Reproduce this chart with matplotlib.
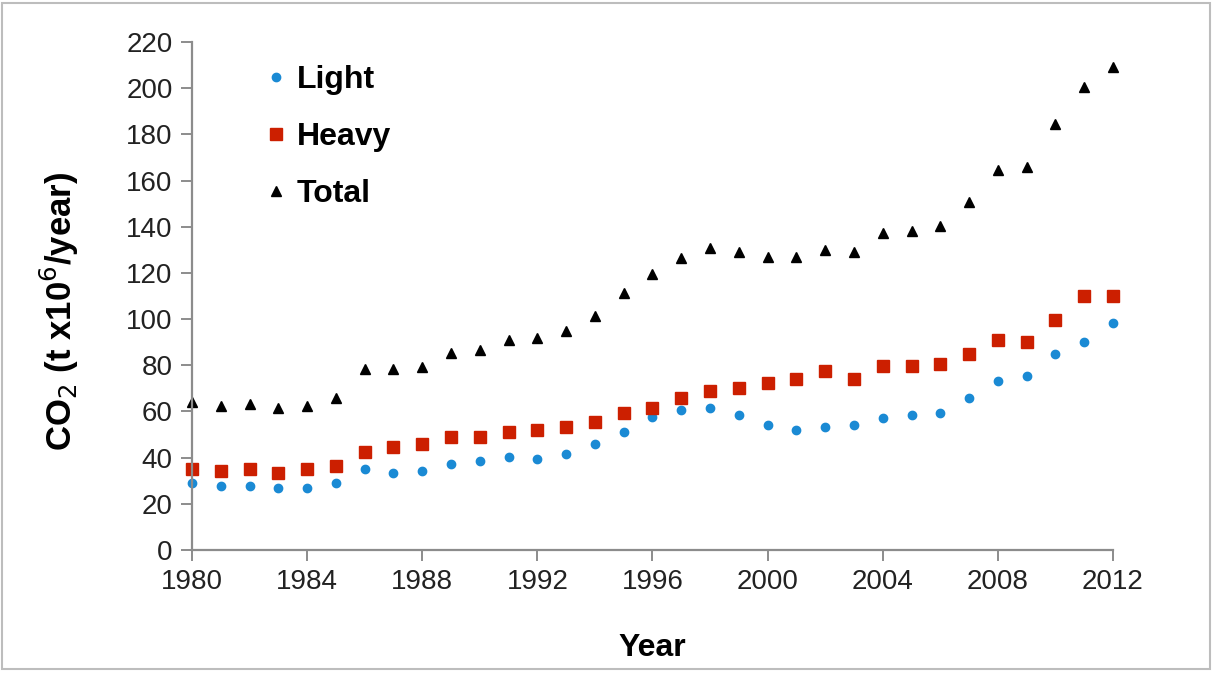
import numpy as np
import matplotlib.pyplot as plt
from matplotlib.patches import Rectangle

plt.rcParams['font.family'] = ['Liberation Sans', 'DejaVu Sans']

years = np.arange(1980, 2013)
light = [29.2, 27.9, 27.9, 26.7, 26.7, 29.2, 35.2, 33.2, 34.2, 37.4, 38.4,
         40.4, 39.4, 41.6, 45.9, 51.0, 57.4, 60.6, 61.6, 58.3, 54.1, 52.1,
         53.1, 54.1, 57.3, 58.3, 59.5, 65.7, 73.2, 75.2, 84.9, 89.9, 98.4]
heavy = [35.2, 34.2, 35.2, 33.2, 35.2, 36.2, 42.6, 44.8, 45.8, 49.1, 49.1,
         51.0, 52.1, 53.3, 55.3, 59.5, 61.5, 65.8, 69.0, 70.0, 72.2, 74.2,
         77.4, 74.2, 79.6, 79.6, 80.6, 84.8, 90.9, 89.9, 99.6, 110.0, 110.0]
total = [64.2, 62.4, 63.2, 61.4, 62.4, 65.7, 78.2, 78.2, 79.1, 85.5, 86.6,
         90.9, 91.9, 95.0, 101.3, 111.2, 119.4, 126.6, 130.9, 128.9, 126.8, 126.8,
         129.9, 128.9, 137.2, 138.2, 140.5, 150.8, 164.6, 165.7, 184.5, 200.4, 209.0]

yticks = np.arange(0, 221, 20)
xticks = np.arange(1980, 2013, 4)


def create_graph():
    fig = plt.figure(figsize=(12.12, 6.73), dpi=100)
    ax = fig.add_axes([0.1584, 0.1828, 0.7599, 0.7548])

    ax.plot(years, light, linestyle='none', marker='o', ms=6, color='#1a8ad4',
            label='Light', clip_on=False)
    ax.plot(years, heavy, linestyle='none', marker='s', ms=8.5, color='#cc1f00',
            label='Heavy', clip_on=False)
    ax.plot(years, total, linestyle='none', marker='^', ms=7.5, color='black',
            label='Total', clip_on=False)

    ax.set_xlim(1980, 2012)
    ax.set_ylim(0, 220)
    ax.set_xticks(xticks)
    ax.set_yticks(yticks)

    for s in ['top', 'right']:
        ax.spines[s].set_visible(False)
    for s in ['left', 'bottom']:
        ax.spines[s].set_color('#8c8c8c')
        ax.spines[s].set_linewidth(1.6)
    ax.tick_params(axis='both', direction='out', length=8, width=1.4,
                   color='#8c8c8c', labelsize=20, labelcolor='#222222', pad=6)

    ax.set_xlabel('Year', fontsize=23, fontweight='bold', labelpad=27)
    ax.set_ylabel(r'CO$_2$ (t x10$^6$/year)', fontsize=25, fontweight='bold')
    ax.yaxis.set_label_coords(-0.12, 0.47)

    ax.legend(loc='upper left', bbox_to_anchor=(0.069, 0.98), frameon=False,
              prop={'size': 23, 'weight': 'bold'}, handlelength=0.5,
              handletextpad=0.4, labelspacing=0.85, borderaxespad=0)

    fig.patches.append(Rectangle((0.002, 0.006), 0.996, 0.99, transform=fig.transFigure,
                                 fill=False, edgecolor='#bdbdbd', linewidth=1.5))
    fig.savefig('out.png', dpi=100)


def main():
    create_graph()


if __name__ == '__main__':
    main()
